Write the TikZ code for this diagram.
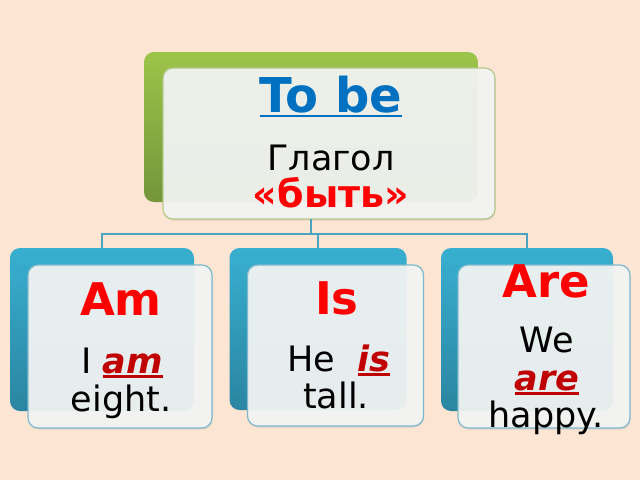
\documentclass[tikz,border=0pt]{standalone}
\usepackage{fontspec}
\setmainfont{DejaVu Sans}[BoldFont={DejaVu Sans Bold},ItalicFont={DejaVu Sans Oblique},BoldItalicFont={DejaVu Sans Bold Oblique}]
\usetikzlibrary{shapes,positioning,shadows}
\definecolor{peach}{HTML}{FDE5D3}
\definecolor{greentop}{HTML}{9DC44A}
\definecolor{greenbot}{HTML}{74953A}
\definecolor{bluetop}{HTML}{38AFD0}
\definecolor{bluebot}{HTML}{2A85A1}
\definecolor{cardfill}{HTML}{F4F5F4}
\definecolor{greenedge}{HTML}{B3C98A}
\definecolor{blueedge}{HTML}{7DB9CC}
\definecolor{linkblue}{HTML}{4BA5C0}
\definecolor{tobeblue}{HTML}{0070C0}
\definecolor{titlered}{HTML}{FF0000}
\definecolor{verbred}{HTML}{C00000}
\newcommand{\titlesize}{\fontsize{45}{48}\selectfont}
\newcommand{\bodysize}{\fontsize{35}{38}\selectfont}
\newcommand{\thickunder}[2][1.5pt]{\leavevmode\vtop{\hbox{#2}\kern#1\hrule height 2.8pt}}
\newcommand{\verbform}[1]{\textcolor{verbred}{\thickunder{\textbf{\textit{#1}}}}}
\tikzstyle{backgreen} = [rectangle, rounded corners=10pt, inner sep=0pt, outer sep=0pt, top color=greentop, bottom color=greenbot]
\tikzstyle{backblue} = [rectangle, rounded corners=10pt, inner sep=0pt, outer sep=0pt, top color=bluetop, bottom color=bluebot]
\tikzstyle{card} = [rectangle, rounded corners=10pt, inner sep=0pt, outer sep=0pt, fill=cardfill, fill opacity=0.93, line width=1.2pt, drop shadow={shadow xshift=0.5pt, shadow yshift=-1.5pt, opacity=.2}]
\tikzstyle{cardgreen} = [card, draw=greenedge]
\tikzstyle{cardblue} = [card, draw=blueedge]
\tikzstyle{title} = [anchor=base, inner sep=0pt, font=\titlesize\bfseries, text=titlered]
\tikzstyle{body} = [anchor=base, inner sep=0pt, font=\bodysize]
\tikzstyle{link} = [draw=linkblue, line width=1.5pt]

\begin{document}
\begin{tikzpicture}[x=1pt, y=-1pt]
	\useasboundingbox (0,0) rectangle (640,480);
	\fill[peach] (0,0) rectangle (640,480);
	% back plates
	\node[backgreen, minimum width=334pt, minimum height=150pt] (tobe-back) at (311,127) {};
	\node[backblue, minimum width=184pt, minimum height=163pt] (am-back) at (102,329.5) {};
	\node[backblue, minimum width=177pt, minimum height=162pt] (is-back) at (318,329) {};
	\node[backblue, minimum width=172pt, minimum height=163pt] (are-back) at (527,329.5) {};
	% cards
	\node[cardgreen, minimum width=332pt, minimum height=151pt, below right=16pt and 19pt of tobe-back.north west] (tobe-card) {};
	\node[cardblue, minimum width=184pt, minimum height=163pt, below right=17pt and 18pt of am-back.north west] (am-card) {};
	\node[cardblue, minimum width=176pt, minimum height=161pt, below right=17pt and 18pt of is-back.north west] (is-card) {};
	\node[cardblue, minimum width=172pt, minimum height=163pt, below right=17pt and 17pt of are-back.north west] (are-card) {};
	% connectors
	\coordinate (bus) at (0,234);
	\draw[link] (tobe-back.south |- tobe-card.south) -- (tobe-back.south |- bus);
	\draw[link] (am-back.north) -- (am-back.north |- bus) -- (are-back.north |- bus) -- (are-back.north);
	\draw[link] (is-back.north) -- (is-back.north |- bus);
	% texts
	\node[title, font=\fontsize{48}{50}\selectfont\bfseries, text=tobeblue] (tobe-title) at (331,112) {\thickunder[2pt]{To be}};
	\node[body] (tobe-line1) at (331,170) {Глагол};
	\node[body, font=\fontsize{38}{40}\selectfont\bfseries, text=titlered] (tobe-line2) at (331,207) {«быть»};
	\node[title] (am-title) at (121,315) {Am};
	\node[body] (am-line1) at (122,373) {I \verbform{am}};
	\node[body] (am-line2) at (121,411) {eight.};
	\node[title] (is-title) at (337,314) {Is};
	\node[body] (is-line1) at (339,371) {He\ \ \verbform{is}};
	\node[body] (is-line2) at (336,408) {tall.};
	\node[title] (are-title) at (546,297) {Are};
	\node[body] (are-line1) at (547,352) {We};
	\node[body] (are-line2) at (547,390) {\verbform{are}};
	\node[body] (are-line3) at (546,427) {happy.};
\end{tikzpicture}
\end{document}
